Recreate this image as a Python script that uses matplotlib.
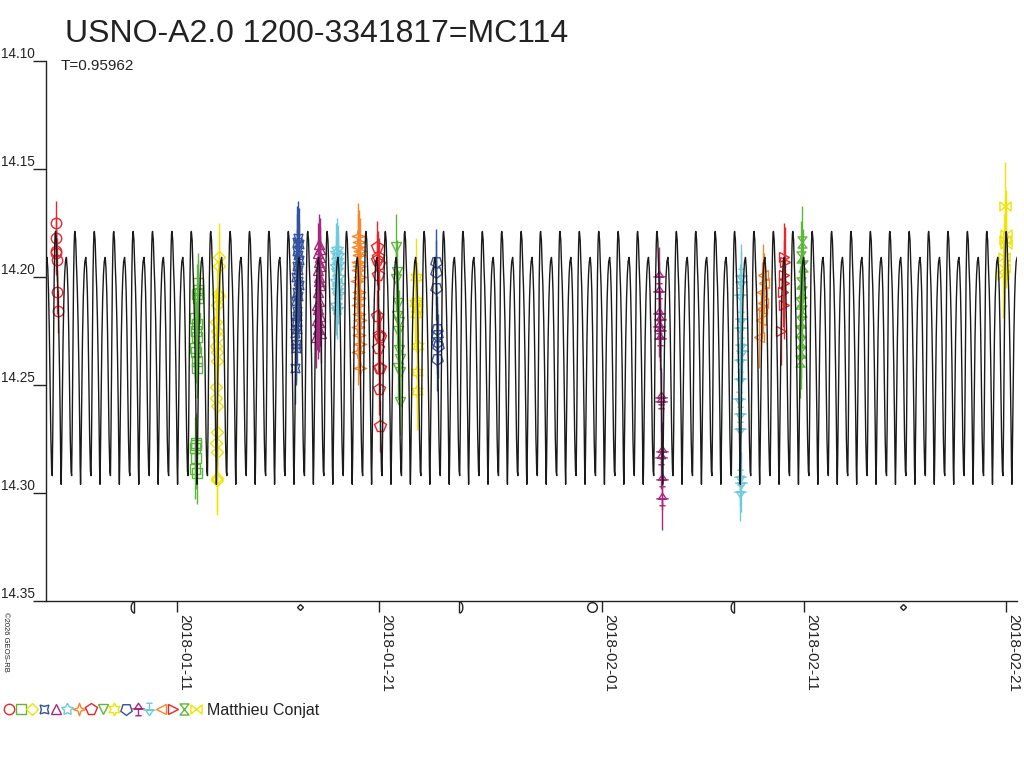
import matplotlib
matplotlib.use('Agg')
import matplotlib.pyplot as plt
import matplotlib.dates as mdates
import numpy as np
from datetime import datetime
from matplotlib.path import Path
from matplotlib.lines import Line2D
from matplotlib.legend_handler import HandlerTuple

plt.rcParams['font.family'] = ['Liberation Sans', 'DejaVu Sans']

TITLE = 'USNO-A2.0 1200-3341817=MC114'
PERIOD = 0.95962
OBSERVER = 'Matthieu Conjat'
COPYRIGHT = '\u00a92026 GEOS-RB'

# all times are days after 2018-01-01 0h UT
# one cycle of the model light curve, phase 0 = main maximum
epoch_max = 23.17
phase_pts = [0.00, 0.04, 0.08, 0.12, 0.16, 0.20, 0.24, 0.27, 0.29, 0.31,
             0.35, 0.39, 0.43, 0.47, 0.51, 0.56, 0.60, 0.64, 0.68, 0.72,
             0.76, 0.80, 0.83, 0.86, 0.90, 0.93, 0.96, 0.98]
phase_mag = [14.179, 14.183, 14.195, 14.205, 14.220, 14.240, 14.265, 14.288,
             14.296, 14.285, 14.255, 14.228, 14.210, 14.199, 14.193, 14.191,
             14.196, 14.207, 14.225, 14.250, 14.275, 14.290, 14.292, 14.270,
             14.230, 14.200, 14.185, 14.180]

# moon phases shown under the axis
moon_days = [7.84, 16.08, 23.95, 30.52, 37.53, 45.89]
moon_kind = ['last', 'new', 'first', 'full', 'last', 'new']

# observations, one list pair per night
t_0104 = [3.99, 3.99, 4.01, 4.02, 4.03, 4.07, 4.08]
m_0104 = [14.175, 14.182, 14.188, 14.189, 14.192, 14.207, 14.216]

t_0111 = [11.00, 11.04, 10.96, 11.02, 10.90, 10.97, 10.93, 10.99, 10.88,
          10.92, 10.95, 10.98, 10.91, 10.94, 10.89, 10.93, 10.90, 10.95]
m_0111 = [14.203, 14.206, 14.208, 14.210, 14.219, 14.222, 14.225, 14.228,
          14.233, 14.235, 14.239, 14.242, 14.277, 14.278, 14.279, 14.284,
          14.289, 14.291]

t_0112 = [12.05, 12.08, 12.02, 12.06, 11.98, 11.92, 11.95, 11.99, 11.90,
          11.94, 11.97, 11.93, 11.91, 11.95, 11.96, 11.93, 11.97, 11.94, 11.96]
m_0112 = [14.191, 14.195, 14.208, 14.209, 14.213, 14.221, 14.225, 14.228,
          14.232, 14.235, 14.239, 14.251, 14.256, 14.260, 14.272, 14.277,
          14.281, 14.293, 14.294]

t_0116 = [15.98, 15.94, 16.00, 15.91, 15.96, 16.02, 15.93, 15.99, 15.89,
          15.95, 16.01, 15.92, 15.97, 15.88, 15.94, 15.90, 15.86, 15.93,
          15.84, 15.89, 15.85, 15.82]
m_0116 = [14.182, 14.184, 14.185, 14.188, 14.190, 14.192, 14.195, 14.197,
          14.200, 14.202, 14.204, 14.207, 14.209, 14.211, 14.216, 14.218,
          14.221, 14.224, 14.226, 14.231, 14.233, 14.242]

t_0117 = [17.02, 17.06, 16.98, 17.04, 17.00, 17.08, 16.96, 17.03, 16.99,
          17.05, 16.94, 17.01, 16.92, 16.97, 17.07, 16.90, 17.03, 16.95,
          17.10, 16.88]
m_0117 = [14.185, 14.187, 14.189, 14.191, 14.193, 14.195, 14.197, 14.200,
          14.202, 14.204, 14.207, 14.211, 14.213, 14.215, 14.218, 14.220,
          14.221, 14.224, 14.226, 14.228]

t_0118 = [17.92, 17.86, 17.96, 17.89, 17.94, 17.84, 17.91, 17.97, 17.87,
          17.93, 17.88, 17.95, 17.85, 17.90]
m_0118 = [14.187, 14.189, 14.190, 14.192, 14.194, 14.195, 14.197, 14.200,
          14.202, 14.204, 14.206, 14.208, 14.213, 14.215]

t_0119 = [18.95, 18.99, 18.92, 19.02, 18.97, 18.93, 19.00, 18.96, 19.04,
          18.91, 18.98, 19.01, 18.94, 18.97, 19.03, 18.92, 18.99, 19.05,
          18.96, 19.02]
m_0119 = [14.181, 14.184, 14.186, 14.188, 14.190, 14.193, 14.195, 14.197,
          14.200, 14.202, 14.207, 14.210, 14.213, 14.217, 14.220, 14.223,
          14.227, 14.231, 14.235, 14.242]

t_0120 = [19.90, 19.95, 19.86, 19.99, 19.93, 19.89, 19.97, 20.01, 19.94,
          19.98, 20.03, 20.00, 20.02]
m_0120 = [14.186, 14.191, 14.192, 14.194, 14.199, 14.218, 14.227, 14.228,
          14.233, 14.242, 14.242, 14.252, 14.269]

t_0121 = [20.84, 20.88, 20.82, 20.93, 20.87, 20.96, 20.91, 20.95, 20.99,
          20.93, 21.01, 21.00]
m_0121 = [14.186, 14.198, 14.201, 14.212, 14.218, 14.221, 14.225, 14.234,
          14.238, 14.242, 14.244, 14.258]

t_0122 = [21.80, 21.84, 21.78, 21.86, 21.82, 21.88, 21.85, 21.87]
m_0122 = [14.200, 14.211, 14.212, 14.215, 14.217, 14.232, 14.244, 14.253]

t_0123 = [22.78, 22.80, 22.79, 22.84, 22.86, 22.83, 22.87, 22.85]
m_0123 = [14.193, 14.198, 14.205, 14.224, 14.227, 14.230, 14.232, 14.238]

t_0203 = [33.80, 33.84, 33.82, 33.86, 33.83, 33.87, 33.85, 33.92, 33.90,
          33.95, 33.93, 33.97, 33.96]
m_0203 = [14.200, 14.207, 14.217, 14.220, 14.223, 14.225, 14.229, 14.256,
          14.258, 14.281, 14.284, 14.294, 14.303]

t_0207 = [37.86, 37.90, 37.84, 37.88, 37.83, 37.87, 37.91, 37.85, 37.82,
          37.80, 37.84, 37.81, 37.83, 37.86, 37.84]
m_0207 = [14.199, 14.202, 14.208, 14.219, 14.223, 14.231, 14.234, 14.238,
          14.247, 14.256, 14.263, 14.270, 14.292, 14.295, 14.299]

t_0208 = [38.96, 39.00, 38.92, 38.97, 38.90, 38.85, 38.78]
m_0208 = [14.199, 14.203, 14.207, 14.212, 14.215, 14.220, 14.228]

t_0209 = [40.02, 40.05, 39.99, 40.03, 39.97, 40.00, 39.86]
m_0209 = [14.191, 14.193, 14.199, 14.203, 14.207, 14.213, 14.225]

t_0210 = [40.90, 40.86, 40.93, 40.84, 40.88, 40.82, 40.91, 40.85, 40.80,
          40.87, 40.83, 40.81]
m_0210 = [14.184, 14.191, 14.195, 14.203, 14.207, 14.212, 14.216, 14.221,
          14.225, 14.230, 14.235, 14.239]

t_0220 = [50.95, 50.99, 50.93, 50.97, 50.90, 50.88, 50.86]
m_0220 = [14.167, 14.180, 14.183, 14.185, 14.191, 14.196, 14.199]

# typical error bar per night
night_err = [0.010, 0.014, 0.016, 0.017, 0.014, 0.014, 0.015, 0.012, 0.015,
             0.018, 0.015, 0.014, 0.014, 0.014, 0.016, 0.017, 0.020]

tick_dates = [datetime(2018, 1, 11), datetime(2018, 1, 21), datetime(2018, 2, 1),
              datetime(2018, 2, 11), datetime(2018, 2, 21)]
mag_ticks = [14.10, 14.15, 14.20, 14.25, 14.30, 14.35]


def custom_marker(verts, codes):
    return Path(np.array(verts, dtype=float), codes)


M, L, C = Path.MOVETO, Path.LINETO, Path.CLOSEPOLY
mk_tree = custom_marker([(0, 1), (-0.6, 0.1), (0.6, 0.1), (0, 1), (-1, 0.1), (1, 0.1),
                         (0, 0.1), (0, -1), (-0.5, -1), (0.5, -1)],
                        [M, L, L, C, M, L, M, L, M, L])
mk_tree_inv = custom_marker([(x, -y) for x, y in mk_tree.vertices], mk_tree.codes)
mk_hourglass = custom_marker([(-0.8, 1), (0.8, 1), (-0.8, -1), (0.8, -1), (0, 0)],
                             [M, L, L, L, C])
mk_bowtie = custom_marker([(-1, 0.8), (1, -0.8), (1, 0.8), (-1, -0.8), (0, 0)],
                          [M, L, L, L, C])
mk_thinstar = Path.unit_regular_star(4, 0.35)
mk_sixstar = Path.unit_regular_star(6, 0.55)

RED, GREEN, YELLOW = '#e8262d', '#5cb83c', '#f0e400'
BLUE, MAGENTA, CYAN, ORANGE = '#34529f', '#a8277f', '#6ccbdc', '#f7862a'

nights = [
    (t_0104, m_0104, 'o', RED, 7.5),
    (t_0111, m_0111, 's', GREEN, 6.5),
    (t_0112, m_0112, 'D', YELLOW, 6.5),
    (t_0116, m_0116, (4, 1, 45), BLUE, 9),
    (t_0117, m_0117, '^', MAGENTA, 7.5),
    (t_0118, m_0118, (5, 1, 0), CYAN, 9),
    (t_0119, m_0119, mk_thinstar, ORANGE, 9),
    (t_0120, m_0120, 'p', RED, 8.5),
    (t_0121, m_0121, 'v', GREEN, 7.5),
    (t_0122, m_0122, mk_sixstar, YELLOW, 9),
    (t_0123, m_0123, (5, 0, 180), BLUE, 8.5),
    (t_0203, m_0203, mk_tree, MAGENTA, 9),
    (t_0207, m_0207, mk_tree_inv, CYAN, 9),
    (t_0208, m_0208, '<', ORANGE, 7.5),
    (t_0209, m_0209, '>', RED, 7.5),
    (t_0210, m_0210, mk_hourglass, GREEN, 8),
    (t_0220, m_0220, mk_bowtie, YELLOW, 8),
]

base = mdates.date2num(datetime(2018, 1, 1))
x_start, x_end = 3.506, 51.53

fig = plt.figure(figsize=(10.24, 7.68), dpi=100)
ax = fig.add_axes([46 / 1024, 167 / 768, 971 / 1024, 540.3 / 768])

# model light curve: the read cycle repeated with the period
cycles = np.arange(np.floor((x_start - epoch_max) / PERIOD) - 1,
                   np.ceil((x_end - epoch_max) / PERIOD) + 1)
model_t = (epoch_max + (cycles[:, None] + np.array(phase_pts)[None, :]) * PERIOD).ravel()
model_m = np.tile(phase_mag, len(cycles))
ax.plot(base + model_t, model_m, color='#1a1a1a', lw=1.0, zorder=3)

handles = []
for (t, m, mk, col, ms), err in zip(nights, night_err):
    t = base + np.array(t)
    ax.errorbar(t, m, yerr=err, fmt='none', ecolor=col, elinewidth=1, capsize=0, zorder=2)
    ax.plot(t, m, linestyle='none', marker=mk, ms=ms, mfc='none', mec=col,
            mew=1, zorder=2)
    handles.append(Line2D([], [], linestyle='none', marker=mk, ms=ms, mfc='none',
                          mec=col, mew=1))

# moon phase symbols just below the axis
ang_l = np.linspace(np.pi / 2, 3 * np.pi / 2, 20)
half_left = np.column_stack([np.cos(ang_l) * 0.6, np.sin(ang_l)])
moon_style = {
    'last': dict(marker=Path(np.vstack([half_left, [[0, 1]]])), ms=8),
    'first': dict(marker=Path(np.vstack([-half_left, [[0, -1]]])), ms=8),
    'full': dict(marker='o', ms=7),
    'new': dict(marker='D', ms=3),
}
trans = ax.get_xaxis_transform()
for d, kind in zip(moon_days, moon_kind):
    ax.plot([base + d], [-0.011], transform=trans, clip_on=False, linestyle='none',
            mfc='none', mec='#222222', mew=1, **moon_style[kind])

ax.set_xlim(base + x_start, base + x_end)
ax.set_ylim(14.35, 14.10)
ax.set_xticks(mdates.date2num(tick_dates))
ax.xaxis.set_major_formatter(mdates.DateFormatter('%Y-%m-%d'))
ax.set_yticks(mag_ticks)
ax.set_yticklabels([f'{v:.2f}' for v in mag_ticks])

for side in ('top', 'right'):
    ax.spines[side].set_visible(False)
for side in ('left', 'bottom'):
    ax.spines[side].set_color('#222222')
    ax.spines[side].set_linewidth(1)

ax.tick_params(axis='x', length=8, width=1, pad=1, labelsize=11, colors='#222222')
ax.tick_params(axis='y', length=9.5, width=1, pad=-1.5, labelsize=9.8, colors='#222222')
for lab in ax.get_xticklabels():
    lab.set_rotation(-90)
    lab.set_horizontalalignment('left')
for lab in ax.get_yticklabels():
    lab.set_verticalalignment('bottom')

fig.text(65 / 1024, 1 - 42.3 / 768, TITLE, fontsize=23, color='#222222', va='baseline')
fig.text(61 / 1024, 1 - 70 / 768, f'T={PERIOD}', fontsize=11, color='#222222',
         va='baseline')
fig.text(2 / 1024, 1 - 612 / 768, COPYRIGHT, fontsize=5.5, rotation=-90,
         color='#222222', ha='left', va='top')

fig.legend(handles=[tuple(handles)], labels=[OBSERVER],
           handler_map={tuple: HandlerTuple(ndivide=None, pad=0)},
           loc='center left', bbox_to_anchor=(3 / 1024, 1 - 710 / 768),
           frameon=False, numpoints=1, handlelength=12.46, handletextpad=0.31,
           borderpad=0, borderaxespad=0, fontsize=11.5, labelcolor='#222222')

fig.savefig('out.png', dpi=100)
